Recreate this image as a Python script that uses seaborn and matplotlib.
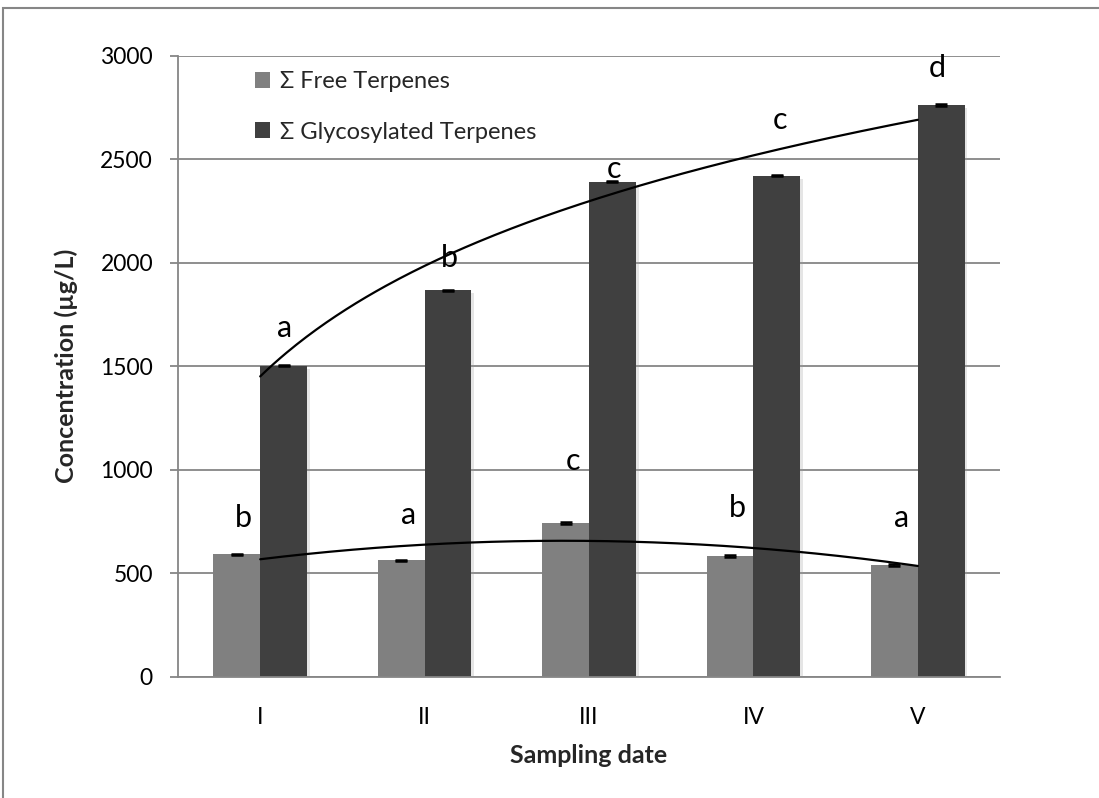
import numpy as np
import pandas as pd
import matplotlib
matplotlib.use("Agg")
import matplotlib.pyplot as plt
import matplotlib.patheffects as pe
from matplotlib.patches import Patch, Rectangle
import seaborn as sns

# ---------------- data ----------------
dates = ["I", "II", "III", "IV", "V"]
series_names = ["Σ Free Terpenes", "Σ Glycosylated Terpenes"]
free_values = [591, 562, 742, 583, 540]
glyc_values = [1502, 1866, 2391, 2420, 2762]
free_err = [3, 3, 3, 3, 3]
glyc_err = [3, 3, 3, 3, 3]
free_letters = ["b", "a", "c", "b", "a"]
glyc_letters = ["a", "b", "c", "c", "d"]
y_ticks = [0, 500, 1000, 1500, 2000, 2500, 3000]

# ---------------- style ----------------
sns.set_theme(style="white")
plt.rcParams["font.family"] = ["Lato", "DejaVu Sans"]
GRID = "#868686"
colors = ["#808080", "#404040"]

df = pd.DataFrame({
    "date": dates * 2,
    "series": [series_names[0]] * len(dates) + [series_names[1]] * len(dates),
    "value": free_values + glyc_values,
})

fig = plt.figure(figsize=(10.99, 7.98), dpi=100)
W, H = 1099, 798
ax = fig.add_axes([178 / W, 1 - 676.7 / H, (1000 - 178) / W, (676.7 - 55.7) / H])

sns.barplot(data=df, x="date", y="value", hue="series", order=dates,
            hue_order=series_names, palette=colors, saturation=1,
            width=0.57, gap=0, errorbar=None, legend=False, ax=ax,
            linewidth=0)

shadow = [pe.SimplePatchShadow(offset=(2, -2), shadow_rgbFace="#999999", alpha=0.25),
          pe.Normal()]
for cont in ax.containers:
    for bar in cont:
        bar.set_path_effects(shadow)

# error bars
for cont, vals, errs in zip(ax.containers, [free_values, glyc_values], [free_err, glyc_err]):
    xs = [b.get_x() + b.get_width() / 2 for b in cont]
    ax.errorbar(xs, vals, yerr=errs, fmt="none", ecolor="black",
                elinewidth=1.2, capsize=4.5, capthick=1.8, zorder=5)

# significance letters (offsets in points above bar tops)
free_dx = [5, 5, 5, 5, 5]
free_dy = [20, 26, 38, 28, 27]
glyc_dx = [1, 1, 1, 2, -3]
glyc_dy = [21, 17, 3, 34, 20]
for cont, letters, dxs, dys in zip(ax.containers, [free_letters, glyc_letters],
                                   [free_dx, glyc_dx], [free_dy, glyc_dy]):
    for b, lt, dx, dy in zip(cont, letters, dxs, dys):
        ax.annotate(lt, (b.get_x() + b.get_width() / 2, b.get_height()),
                    xytext=(dx, dy), textcoords="offset points",
                    ha="center", va="baseline", fontsize=22, color="black",
                    zorder=6)

# trend lines (computed from data)
xi = np.arange(1, len(dates) + 1)
xs_dense = np.linspace(1, len(dates), 200)
a_log, b_log = np.polyfit(np.log(xi), glyc_values, 1)
ax.plot(xs_dense - 1, a_log * np.log(xs_dense) + b_log, color="black", lw=1.6, zorder=4)
poly = np.polyfit(xi, free_values, 2)
ax.plot(xs_dense - 1, np.polyval(poly, xs_dense), color="black", lw=1.6, zorder=4)

# axes
ax.set_xlim(-0.5, len(dates) - 0.5)
ax.set_ylim(0, 3000)
ax.set_yticks(y_ticks)
ax.set_yticklabels([str(t) for t in y_ticks])
ax.yaxis.grid(True, color=GRID, lw=1.3)
ax.xaxis.grid(False)
ax.set_axisbelow(True)
for s in ["top", "right"]:
    ax.spines[s].set_visible(False)
for s in ["left", "bottom"]:
    ax.spines[s].set_color(GRID)
    ax.spines[s].set_linewidth(1.3)

ax.set_xticks(range(len(dates)))
ax.set_xticklabels(dates)
ax.set_xticks(np.arange(-0.5, len(dates), 1.0), minor=True)
ax.tick_params(axis="x", which="major", length=0, pad=22, labelsize=16.5, colors="black")
ax.tick_params(axis="x", which="minor", length=6, width=1.3, color=GRID, direction="out")
ax.tick_params(axis="y", which="major", length=6, width=1.3, color=GRID, direction="out",
               pad=12, labelsize=16.5, labelcolor="black", left=True)

ax.set_xlabel("Sampling date", fontsize=18, fontweight="bold", labelpad=11)
ax.set_ylabel("Concentration (µg/L)", fontsize=18, fontweight="bold", labelpad=16)

# legend
handles = [Patch(facecolor=c, edgecolor="none") for c in colors]
ax.legend(handles, series_names, loc="upper left",
          bbox_to_anchor=((255 - 178) / 822, (676.7 - 71) / 621),
          frameon=False, fontsize=17, handlelength=0.65, handleheight=0.65,
          handletextpad=0.4, labelspacing=1.25, borderpad=0, borderaxespad=0)

# outer chart border
fig.patches.append(Rectangle((3 / W, -0.1), 1.2, 1 - 8 / H + 0.1,
                             transform=fig.transFigure, fill=False,
                             edgecolor=GRID, lw=1.5, zorder=0))

fig.savefig("out.png", dpi=100)
